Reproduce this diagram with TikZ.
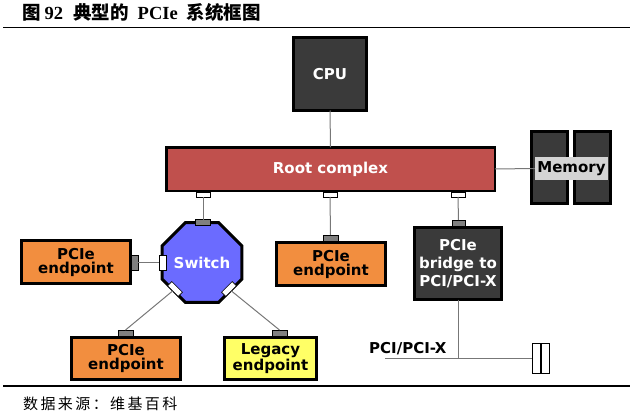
\documentclass[tikz,border=0pt]{standalone}
\usepackage{fontspec}
\setmainfont{DejaVu Sans}
\newfontfamily\cjk{Noto Sans CJK SC}
\newfontfamily\cjksrc{Noto Sans CJK SC}[LetterSpace=16]
\newfontfamily\tser{Liberation Serif}
\usetikzlibrary{shapes.geometric}
\definecolor{darkfill}{HTML}{3A3A3A}
\definecolor{rootred}{HTML}{C0504D}
\definecolor{eporange}{HTML}{F28E3F}
\definecolor{swblue}{HTML}{6B6BFF}
\definecolor{legyellow}{HTML}{FFFF66}
\definecolor{memgray}{HTML}{D4D4D4}
\definecolor{portgray}{HTML}{808080}
\definecolor{wiregray}{HTML}{777777}
\begin{document}
\begin{tikzpicture}[x=1pt,y=-1pt,
  lbl/.style={font=\fontsize{15}{14}\selectfont\bfseries},
  box/.style={draw=black, line width=3pt, inner sep=0pt, outer sep=0pt, align=center, lbl},
  darkbox/.style={box, fill=darkfill, text=white},
  orangebox/.style={box, fill=eporange, text=black},
  port/.style={draw=black, line width=0.6pt, fill=white, inner sep=0pt, outer sep=0pt},
  gport/.style={port, fill=portgray},
  wire/.style={draw=wiregray, line width=1pt}
]
\useasboundingbox (0,0) rectangle (640,420);

% title and rules
\node[anchor=base west, inner sep=0pt] (title) at (22,20)
  {\fontsize{18.5}{20}\selectfont\bfseries{\cjk 图}\hspace{4pt}{\tser 92}\hspace{10pt}{\cjk 典型的}\hspace{9pt}{\tser PCIe}\hspace{9pt}{\cjk 系统框图}};
\draw[line width=1.3pt] (3,27.5) -- (630,27.5);
\draw[line width=1.2pt] (3,386) -- (630,386);
\node[anchor=base west, inner sep=0pt] (src) at (23,409)
  {\cjksrc\fontsize{15}{16}\selectfont 数据来源：维基百科};

% CPU and root complex
\node[darkbox, minimum width=73, minimum height=73] (cpu) at (330,74) {CPU};
\node[box, line width=2.5pt, fill=rootred, text=white, minimum width=328.5, minimum height=43.5] (root) at (330.5,169) {Root complex};
\node[port, minimum width=14, minimum height=5] (rp1) at (203,194.5) {};
\node[port, minimum width=14, minimum height=5] (rp2) at (330,194.5) {};
\node[port, minimum width=14, minimum height=5] (rp3) at (458,194.5) {};

% memory
\node[box, fill=darkfill, minimum width=36, minimum height=72] (mem1) at (549.5,167.5) {};
\node[box, fill=darkfill, minimum width=36, minimum height=72] (mem2) at (592,167.5) {};
\node[fill=memgray, inner sep=0pt, minimum width=73, minimum height=23, lbl] (memlbl) at (571.5,168.5) {Memory};

% switch
\node[regular polygon, regular polygon sides=8, minimum size=77.9, inner sep=0pt, outer sep=0pt,
  draw=black, line width=3pt, fill=swblue, text=white, lbl] (sw) at (202,262.5) {Switch};
\node[gport, minimum width=15, minimum height=6] (swtop) at (202.5,222.5) {};
\node[port, minimum width=7, minimum height=15] (swleft) at (162.5,262.5) {};
\node[port, minimum width=15, minimum height=6, rotate=-45] (swdl) at (175,289) {};
\node[port, minimum width=15, minimum height=6, rotate=45] (swdr) at (229,289) {};

% endpoints
\node[orangebox, minimum width=109, minimum height=43] (ep1) at (76,262) {PCIe\\endpoint};
\node[gport, minimum width=7, minimum height=15] (ep1p) at (134.5,262.5) {};
\node[orangebox, minimum width=109, minimum height=43] (ep2) at (331,264) {PCIe\\endpoint};
\node[gport, minimum width=15, minimum height=6] (ep2p) at (330.5,238) {};
\node[orangebox, minimum width=109, minimum height=42] (ep3) at (126,358.5) {PCIe\\endpoint};
\node[gport, minimum width=15, minimum height=6] (ep3p) at (125.5,333) {};
\node[box, fill=legyellow, text=black, minimum width=92, minimum height=42] (leg) at (270.5,358.5) {Legacy\\endpoint};
\node[gport, minimum width=15, minimum height=6] (legp) at (279.5,333) {};

% bridge
\node[darkbox, font=\fontsize{15}{18}\selectfont\bfseries, minimum width=87, minimum height=72] (br) at (458,263.5) {PCIe\\bridge to\\PCI/PCI-X};
\node[gport, minimum width=13, minimum height=6] (brp) at (458.5,223) {};

% bus
\coordinate (busL) at (385,358);
\node[port, line width=0.8pt, minimum width=8, minimum height=30] (slot1) at (536,358) {};
\node[port, line width=0.8pt, minimum width=8, minimum height=30] (slot2) at (545,358) {};
\node[anchor=west, inner sep=0pt, lbl] (buslbl) at (369,349) {PCI/PCI-X};

% wires
\draw[wire] (cpu.south) -- (root.north);
\draw[wire] (root.east) -- (memlbl.west);
\draw[wire] (rp1.south) -- (rp1.south |- swtop.north);
\draw[wire] (rp2.south) -- (ep2p.north);
\draw[wire] (rp3.south) -- (brp.north);
\draw[wire] (swleft) -- (ep1p);
\draw[wire] (swdl) -- (ep3p.north);
\draw[wire] (swdr) -- (legp.north);
\draw[wire] (br.south) -- (br.south |- busL);
\draw[wire] (busL) -- (slot1.west);
\end{tikzpicture}
\end{document}
